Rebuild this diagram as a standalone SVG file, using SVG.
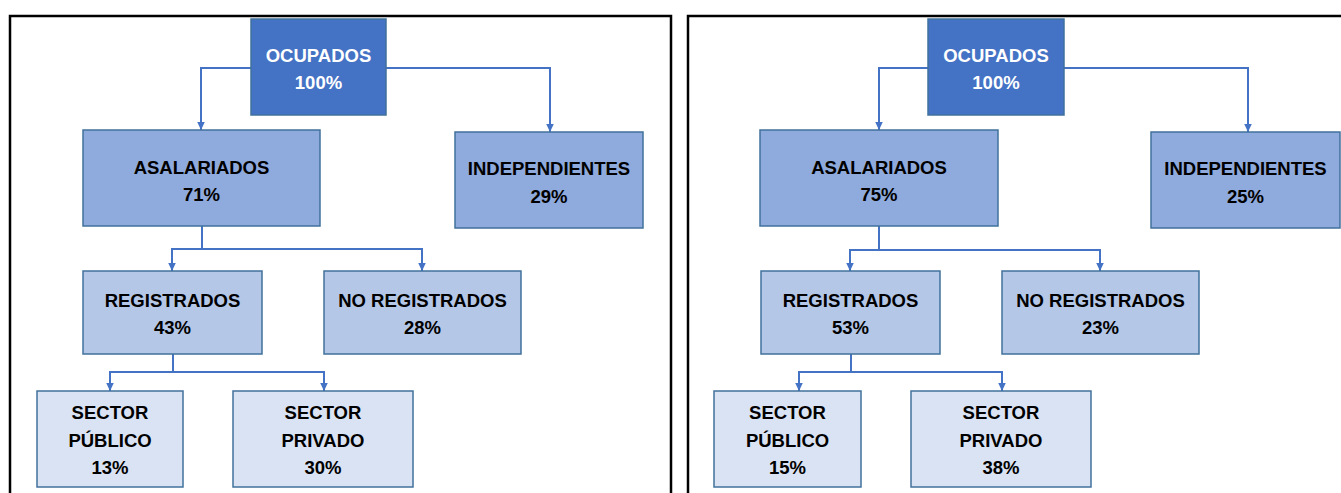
<svg xmlns="http://www.w3.org/2000/svg" width="1341" height="493" viewBox="0 0 1341 493">
<style>
.frame{fill:none;stroke:#000;stroke-width:2.5}
.box{stroke:#41719C;stroke-width:1.5}
.l1{fill:#4472C4}
.l2{fill:#8FAADC}
.l3{fill:#B4C7E7}
.l4{fill:#DAE3F3}
text{font-family:"Liberation Sans",Arial,sans-serif;font-weight:bold;font-size:18.5px;text-anchor:middle;fill:#000}
.w{fill:#fff}
.conn{fill:none;stroke:#4472C4;stroke-width:2;marker-end:url(#ah)}
</style>
<defs>
<marker id="ah" markerUnits="userSpaceOnUse" markerWidth="9" markerHeight="9" viewBox="0 0 9 9" refX="8.5" refY="4.5" orient="auto">
<path d="M0,0.5 L8.5,4.5 L0,8.5 z" fill="#4472C4"/>
</marker>
</defs>
<rect width="1341" height="493" fill="#fff"/>
<rect class="frame" x="10" y="16" width="661" height="490"/>
<rect class="frame" x="688" y="16" width="670" height="490"/>
<g id="connectors">
<path class="conn" d="M251,68 H201 V130"/>
<path class="conn" d="M386,68 H550 V132"/>
<path class="conn" d="M202,226 V249 H172 V271"/>
<path class="conn" d="M202,249 H422 V271"/>
<path class="conn" d="M173,354 V372 H110 V391"/>
<path class="conn" d="M173,372 H324 V391"/>
<path class="conn" d="M928,68 H879 V130"/>
<path class="conn" d="M1064,68 H1248 V132"/>
<path class="conn" d="M879,226 V250 H850 V271"/>
<path class="conn" d="M879,250 H1100 V271"/>
<path class="conn" d="M851,354 V372 H799 V391"/>
<path class="conn" d="M851,372 H1002 V391"/>
</g>
<g id="ocupados-a"><rect class="box l1" x="251" y="19" width="135" height="96"/><text class="w" x="318.5" y="62">OCUPADOS</text><text class="w" x="318.5" y="89">100%</text></g>
<g id="asalariados-a"><rect class="box l2" x="83" y="130" width="237" height="96"/><text x="201.5" y="174">ASALARIADOS</text><text x="201.5" y="201">71%</text></g>
<g id="independientes-a"><rect class="box l2" x="455" y="132" width="188" height="96"/><text x="549" y="175">INDEPENDIENTES</text><text x="549" y="202.5">29%</text></g>
<g id="registrados-a"><rect class="box l3" x="83" y="271" width="179" height="83"/><text x="172.5" y="307">REGISTRADOS</text><text x="172.5" y="334">43%</text></g>
<g id="noregistrados-a"><rect class="box l3" x="324" y="271" width="197" height="83"/><text x="422.5" y="307">NO REGISTRADOS</text><text x="422.5" y="334">28%</text></g>
<g id="publico-a"><rect class="box l4" x="37" y="391" width="146" height="96"/><text x="110" y="419">SECTOR</text><text x="110" y="447">PÚBLICO</text><text x="110" y="474">13%</text></g>
<g id="privado-a"><rect class="box l4" x="233" y="391" width="180" height="96"/><text x="323" y="419">SECTOR</text><text x="323" y="447">PRIVADO</text><text x="323" y="474">30%</text></g>
<g id="ocupados-b"><rect class="box l1" x="928" y="19" width="136" height="96"/><text class="w" x="996" y="62">OCUPADOS</text><text class="w" x="996" y="89">100%</text></g>
<g id="asalariados-b"><rect class="box l2" x="760" y="130" width="238" height="96"/><text x="879" y="174">ASALARIADOS</text><text x="879" y="201">75%</text></g>
<g id="independientes-b"><rect class="box l2" x="1151" y="132" width="189" height="96"/><text x="1245.5" y="175">INDEPENDIENTES</text><text x="1245.5" y="202.5">25%</text></g>
<g id="registrados-b"><rect class="box l3" x="761" y="271" width="179" height="83"/><text x="850.5" y="307">REGISTRADOS</text><text x="850.5" y="334">53%</text></g>
<g id="noregistrados-b"><rect class="box l3" x="1002" y="271" width="197" height="83"/><text x="1100.5" y="307">NO REGISTRADOS</text><text x="1100.5" y="334">23%</text></g>
<g id="publico-b"><rect class="box l4" x="714" y="391" width="147" height="96"/><text x="787.5" y="419">SECTOR</text><text x="787.5" y="447">PÚBLICO</text><text x="787.5" y="474">15%</text></g>
<g id="privado-b"><rect class="box l4" x="911" y="391" width="180" height="96"/><text x="1001" y="419">SECTOR</text><text x="1001" y="447">PRIVADO</text><text x="1001" y="474">38%</text></g>
</svg>
